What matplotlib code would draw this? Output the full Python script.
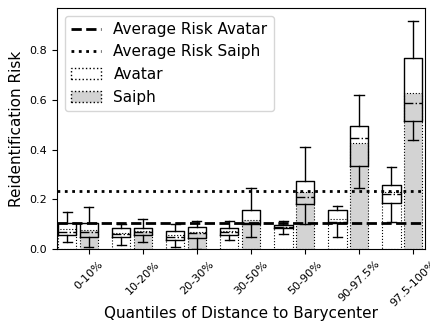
import numpy as np
import matplotlib
matplotlib.use("Agg")
import matplotlib.pyplot as plt
from matplotlib.lines import Line2D
from matplotlib.patches import Patch

quantiles = ["0-10%", "10-20%", "20-30%", "30-50%", "50-90%", "90-97.5%", "97.5-100%"]

# mean risk per quantile (bar heights)
avatar_mean = [0.080, 0.067, 0.055, 0.075, 0.090, 0.122, 0.229]
saiph_mean = [0.078, 0.075, 0.070, 0.118, 0.230, 0.427, 0.630]

# box statistics
avatar_q1 = [0.055, 0.048, 0.038, 0.056, 0.084, 0.104, 0.185]
avatar_med = [0.070, 0.060, 0.048, 0.070, 0.091, 0.108, 0.223]
avatar_q3 = [0.104, 0.084, 0.075, 0.086, 0.098, 0.159, 0.257]
avatar_lo = [0.027, 0.018, 0.010, 0.038, 0.061, 0.048, 0.111]
avatar_hi = [0.148, 0.103, 0.100, 0.112, 0.115, 0.174, 0.330]

saiph_q1 = [0.048, 0.055, 0.045, 0.102, 0.181, 0.335, 0.515]
saiph_med = [0.070, 0.068, 0.066, 0.105, 0.208, 0.448, 0.587]
saiph_q3 = [0.104, 0.084, 0.091, 0.158, 0.274, 0.495, 0.771]
saiph_lo = [0.007, 0.028, 0.000, 0.050, 0.103, 0.247, 0.441]
saiph_hi = [0.168, 0.120, 0.112, 0.246, 0.411, 0.619, 0.919]

avg_avatar = 0.104
avg_saiph = 0.233


def box_stats(q1, med, q3, lo, hi):
    return [dict(q1=a, med=b, q3=c, whislo=d, whishi=e, fliers=[])
            for a, b, c, d, e in zip(q1, med, q3, lo, hi)]


x = np.arange(len(quantiles))
width = 0.34

fig, ax = plt.subplots(figsize=(4.31, 3.24), dpi=100)
fig.subplots_adjust(left=0.132, right=0.986, top=0.975, bottom=0.231)

ax.bar(x - 0.4, avatar_mean, width, color="white", edgecolor="black",
       linestyle=":", linewidth=0.8, zorder=1)
ax.bar(x, saiph_mean, width, color="lightgray", edgecolor="black",
       linestyle=":", linewidth=0.8, zorder=1)

props = dict(
    widths=width, showfliers=False, manage_ticks=False, zorder=3,
    boxprops=dict(color="black", linewidth=1),
    whiskerprops=dict(color="black", linewidth=1),
    capprops=dict(color="black", linewidth=1),
    medianprops=dict(color="black", linewidth=1, linestyle="-."),
)
ax.bxp(box_stats(avatar_q1, avatar_med, avatar_q3, avatar_lo, avatar_hi),
       positions=x - 0.4, **props)
ax.bxp(box_stats(saiph_q1, saiph_med, saiph_q3, saiph_lo, saiph_hi),
       positions=x, **props)

ax.axhline(avg_avatar, color="black", linestyle="--", linewidth=2, zorder=4)
ax.axhline(avg_saiph, color="black", linestyle=":", linewidth=2, zorder=4)

ax.set_xticks(x)
ax.set_xticklabels(quantiles, rotation=45, fontsize=8)
ax.tick_params(axis="y", labelsize=8)
ax.set_xlim(-0.59, 6.22)
ax.set_ylim(0, 0.97)
ax.set_xlabel("Quantiles of Distance to Barycenter", fontsize=11, labelpad=-2)
ax.set_ylabel("Reidentification Risk", fontsize=11)

handles = [
    Line2D([], [], color="black", linestyle="--", linewidth=2),
    Line2D([], [], color="black", linestyle=":", linewidth=2),
    Patch(facecolor="white", edgecolor="black", linestyle=":"),
    Patch(facecolor="lightgray", edgecolor="black", linestyle=":"),
]
labels = ["Average Risk Avatar", "Average Risk Saiph", "Avatar", "Saiph"]
ax.legend(handles, labels, loc="upper left", fontsize=11)

fig.savefig("out.png", dpi=100)
